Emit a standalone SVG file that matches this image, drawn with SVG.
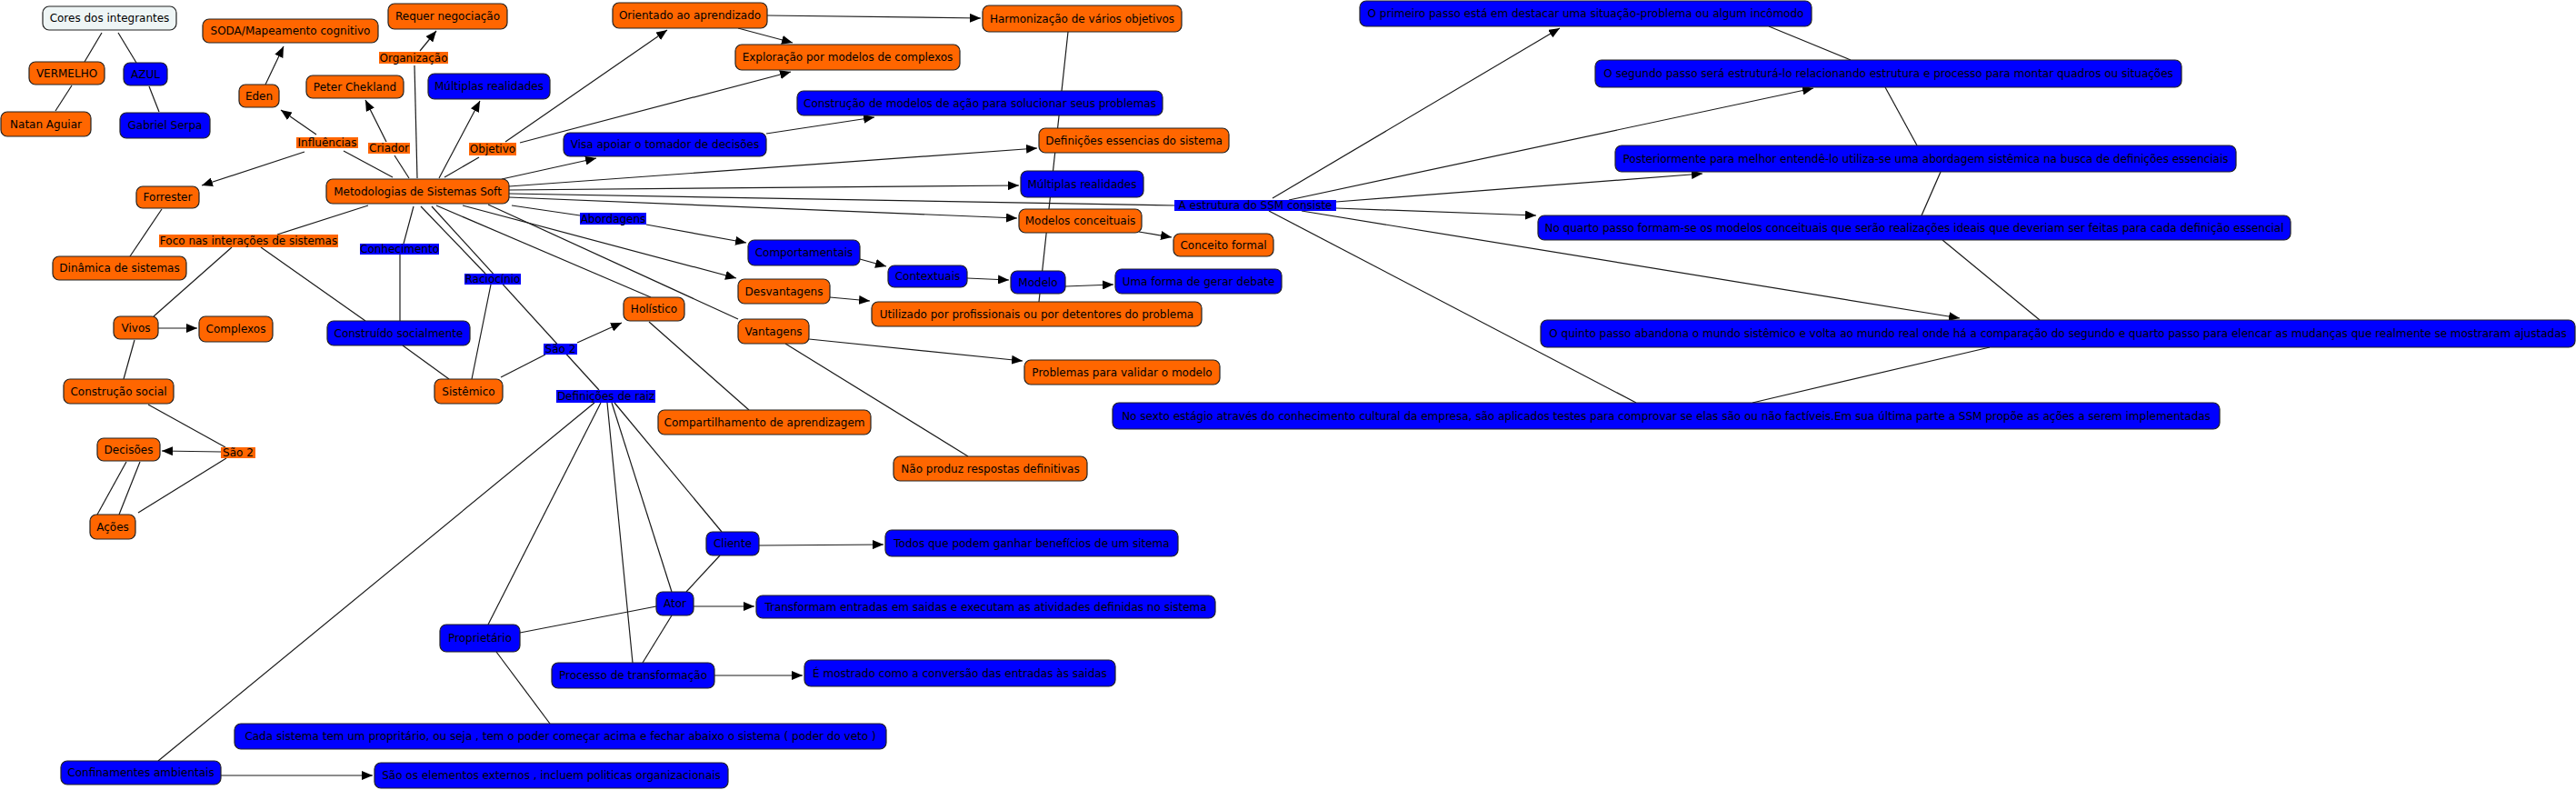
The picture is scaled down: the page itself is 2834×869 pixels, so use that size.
<svg xmlns="http://www.w3.org/2000/svg" width="2834" height="869" viewBox="0 0 2834 869">
<defs>
<marker id="ah" viewBox="0 0 12 10" refX="12" refY="5" markerWidth="12" markerHeight="10" markerUnits="userSpaceOnUse" orient="auto"><path d="M0,0 L12,5 L0,10 z" fill="#000"/></marker>
<style>
.no{fill:#ff6600;stroke:#222;stroke-width:1.2}
.nb{fill:#0000ff;stroke:#222;stroke-width:1.2}
.nw{fill:#eef5f5;stroke:#222;stroke-width:1.2}
.lo{fill:#ff6600}
.lb{fill:#0000ff}
text{font-family:"DejaVu Sans",Verdana,sans-serif;font-size:12px;fill:#000;text-anchor:middle}
#connectors line{stroke:#1a1a1a;stroke-width:1.2}
#connectors .a{marker-end:url(#ah)}
</style>
</defs>
<rect width="2834" height="869" fill="#fff"/>
<g id="connectors">
<line x1="112" y1="36" x2="93" y2="68"/>
<line x1="130" y1="36" x2="150" y2="69"/>
<line x1="79" y1="94" x2="61" y2="122"/>
<line x1="164" y1="95" x2="175" y2="123"/>
<line x1="432" y1="195" x2="378" y2="166"/>
<line class="a" x1="348" y1="148" x2="309" y2="121"/>
<line class="a" x1="335" y1="167" x2="222" y2="204"/>
<line class="a" x1="292" y1="93" x2="312" y2="51"/>
<line x1="450" y1="196" x2="434" y2="171"/>
<line class="a" x1="425" y1="156" x2="402" y2="110"/>
<line x1="459" y1="196" x2="456" y2="72"/>
<line class="a" x1="462" y1="56" x2="480" y2="34"/>
<line class="a" x1="483" y1="196" x2="528" y2="111"/>
<line x1="489" y1="195" x2="527" y2="173"/>
<line class="a" x1="556" y1="156" x2="734" y2="33"/>
<line class="a" x1="572" y1="157" x2="870" y2="79"/>
<line class="a" x1="844" y1="17" x2="1079" y2="20"/>
<line class="a" x1="812" y1="31" x2="872" y2="47"/>
<line class="a" x1="552" y1="197" x2="656" y2="174"/>
<line class="a" x1="843" y1="147" x2="962" y2="129"/>
<line class="a" x1="560" y1="205" x2="1141" y2="163"/>
<line class="a" x1="560" y1="209" x2="1121" y2="204"/>
<line x1="560" y1="213" x2="1292" y2="226"/>
<line class="a" x1="560" y1="217" x2="1119" y2="240"/>
<line class="a" x1="1253" y1="255" x2="1289" y2="261"/>
<line x1="563" y1="226" x2="638" y2="237"/>
<line class="a" x1="711" y1="247" x2="821" y2="267"/>
<line class="a" x1="946" y1="285" x2="975" y2="293"/>
<line class="a" x1="1064" y1="306" x2="1110" y2="308"/>
<line class="a" x1="1172" y1="315" x2="1225" y2="313"/>
<line class="a" x1="913" y1="327" x2="957" y2="331"/>
<line class="a" x1="509" y1="226" x2="810" y2="306"/>
<line x1="537" y1="225" x2="812" y2="351"/>
<line x1="480" y1="226" x2="716" y2="327"/>
<line x1="455" y1="227" x2="444" y2="268"/>
<line x1="440" y1="280" x2="440" y2="353"/>
<line x1="463" y1="227" x2="534" y2="301"/>
<line x1="540" y1="313" x2="519" y2="417"/>
<line x1="475" y1="227" x2="659" y2="429"/>
<line x1="551" y1="415" x2="600" y2="390"/>
<line class="a" x1="635" y1="377" x2="684" y2="355"/>
<line x1="405" y1="226" x2="305" y2="258"/>
<line x1="255" y1="272" x2="169" y2="348"/>
<line x1="287" y1="272" x2="402" y2="353"/>
<line class="a" x1="174" y1="361" x2="217" y2="361"/>
<line x1="148" y1="374" x2="136" y2="417"/>
<line x1="163" y1="445" x2="248" y2="492"/>
<line class="a" x1="243" y1="497" x2="178" y2="496"/>
<line x1="249" y1="504" x2="152" y2="564"/>
<line x1="139" y1="508" x2="107" y2="566"/>
<line x1="154" y1="508" x2="131" y2="566"/>
<line x1="178" y1="230" x2="143" y2="282"/>
<line x1="443" y1="380" x2="494" y2="417"/>
<line x1="714" y1="354" x2="824" y2="451"/>
<line class="a" x1="890" y1="373" x2="1125" y2="397"/>
<line x1="864" y1="378" x2="1065" y2="502"/>
<line x1="1175" y1="35" x2="1143" y2="332"/>
<line x1="654" y1="443" x2="174" y2="837"/>
<line x1="661" y1="443" x2="537" y2="687"/>
<line x1="668" y1="443" x2="696" y2="729"/>
<line x1="673" y1="443" x2="739" y2="651"/>
<line x1="676" y1="443" x2="794" y2="585"/>
<line x1="572" y1="696" x2="722" y2="667"/>
<line x1="546" y1="717" x2="605" y2="796"/>
<line class="a" x1="835" y1="600" x2="972" y2="599"/>
<line x1="792" y1="611" x2="755" y2="651"/>
<line class="a" x1="763" y1="667" x2="830" y2="667"/>
<line x1="739" y1="677" x2="707" y2="729"/>
<line class="a" x1="786" y1="743" x2="883" y2="743"/>
<line class="a" x1="243" y1="853" x2="410" y2="853"/>
<line class="a" x1="1400" y1="218" x2="1716" y2="31"/>
<line class="a" x1="1418" y1="220" x2="1995" y2="97"/>
<line class="a" x1="1470" y1="222" x2="1873" y2="191"/>
<line class="a" x1="1470" y1="229" x2="1690" y2="237"/>
<line class="a" x1="1432" y1="232" x2="2156" y2="350"/>
<line x1="1396" y1="232" x2="1800" y2="443"/>
<line x1="1946" y1="29" x2="2036" y2="66"/>
<line x1="2074" y1="96" x2="2109" y2="160"/>
<line x1="2135" y1="189" x2="2114" y2="237"/>
<line x1="2137" y1="264" x2="2244" y2="352"/>
<line x1="2189" y1="382" x2="1928" y2="443"/>
</g>
<g id="n1"><rect class="nw" x="47" y="7" width="147" height="26" rx="7"/><text x="120.5" y="24">Cores dos integrantes</text></g>
<g id="n2"><rect class="no" x="32" y="68" width="83" height="25" rx="7"/><text x="73.5" y="84.5">VERMELHO</text></g>
<g id="n3"><rect class="nb" x="136" y="69" width="48" height="25" rx="7"/><text x="160" y="85.5">AZUL</text></g>
<g id="n4"><rect class="no" x="1" y="123" width="99" height="27" rx="7"/><text x="50.5" y="140.5">Natan Aguiar</text></g>
<g id="n5"><rect class="nb" x="132" y="124" width="99" height="28" rx="7"/><text x="181.5" y="142">Gabriel Serpa</text></g>
<g id="n6"><rect class="no" x="223" y="21" width="193" height="26" rx="7"/><text x="319.5" y="38">SODA/Mapeamento cognitivo</text></g>
<g id="n7"><rect class="no" x="427" y="4" width="131" height="28" rx="7"/><text x="492.5" y="22">Requer negociação</text></g>
<g id="n8"><rect class="no" x="263" y="93" width="44" height="25" rx="7"/><text x="285" y="109.5">Eden</text></g>
<g id="n9"><rect class="no" x="337" y="83" width="107" height="25" rx="7"/><text x="390.5" y="99.5">Peter Chekland</text></g>
<g id="n10"><rect class="nb" x="471" y="81" width="134" height="28" rx="7"/><text x="538" y="99">Múltiplas realidades</text></g>
<g id="n11"><rect class="no" x="359" y="197" width="201" height="27" rx="7"/><text x="459.5" y="214.5">Metodologias de Sistemas Soft</text></g>
<g id="n12"><rect class="no" x="150" y="205" width="69" height="24" rx="7"/><text x="184.5" y="221">Forrester</text></g>
<g id="n13"><rect class="no" x="58" y="282" width="147" height="26" rx="7"/><text x="131.5" y="299">Dinâmica de sistemas</text></g>
<g id="n14"><rect class="no" x="125" y="348" width="49" height="25" rx="7"/><text x="149.5" y="364.5">Vivos</text></g>
<g id="n15"><rect class="no" x="219" y="348" width="81" height="28" rx="7"/><text x="259.5" y="366">Complexos</text></g>
<g id="n16"><rect class="no" x="70" y="417" width="121" height="27" rx="7"/><text x="130.5" y="434.5">Construção social</text></g>
<g id="n17"><rect class="no" x="107" y="482" width="69" height="25" rx="7"/><text x="141.5" y="498.5">Decisões</text></g>
<g id="n18"><rect class="no" x="99" y="566" width="50" height="27" rx="7"/><text x="124" y="583.5">Ações</text></g>
<g id="n19"><rect class="nb" x="360" y="353" width="157" height="27" rx="7"/><text x="438.5" y="370.5">Construído socialmente</text></g>
<g id="n20"><rect class="no" x="478" y="417" width="75" height="27" rx="7"/><text x="515.5" y="434.5">Sistêmico</text></g>
<g id="n21"><rect class="no" x="686" y="327" width="67" height="26" rx="7"/><text x="719.5" y="344">Holístico</text></g>
<g id="n22"><rect class="no" x="724" y="451" width="234" height="27" rx="7"/><text x="841" y="468.5">Compartilhamento de aprendizagem</text></g>
<g id="n23"><rect class="nb" x="484" y="687" width="88" height="30" rx="7"/><text x="528" y="706">Proprietário</text></g>
<g id="n24"><rect class="nb" x="607" y="729" width="179" height="28" rx="7"/><text x="696.5" y="747">Processo de transformação</text></g>
<g id="n25"><rect class="nb" x="258" y="796" width="717" height="28" rx="7"/><text x="616.5" y="814">Cada sistema tem um propritário, ou seja , tem o poder começar acima e fechar abaixo o sistema ( poder do veto )</text></g>
<g id="n26"><rect class="nb" x="67" y="837" width="176" height="26" rx="7"/><text x="155" y="854">Confinamentes ambientais</text></g>
<g id="n27"><rect class="nb" x="412" y="839" width="389" height="28" rx="7"/><text x="606.5" y="857">São os elementos externos , incluem politicas organizacionais</text></g>
<g id="n28"><rect class="no" x="674" y="3" width="170" height="28" rx="7"/><text x="759" y="21">Orientado ao aprendizado</text></g>
<g id="n29"><rect class="no" x="1081" y="6" width="219" height="29" rx="7"/><text x="1190.5" y="24.5">Harmonização de vários objetivos</text></g>
<g id="n30"><rect class="no" x="809" y="49" width="247" height="28" rx="7"/><text x="932.5" y="67">Exploração por modelos de complexos</text></g>
<g id="n31"><rect class="nb" x="877" y="100" width="402" height="27" rx="7"/><text x="1078" y="117.5">Construção de modelos de ação para solucionar seus problemas</text></g>
<g id="n32"><rect class="nb" x="620" y="146" width="223" height="26" rx="7"/><text x="731.5" y="163">Visa apoiar o tomador de decisões</text></g>
<g id="n33"><rect class="no" x="1143" y="141" width="209" height="27" rx="7"/><text x="1247.5" y="158.5">Definições essencias do sistema</text></g>
<g id="n34"><rect class="nb" x="1123" y="188" width="135" height="29" rx="7"/><text x="1190.5" y="206.5">Múltiplas realidades</text></g>
<g id="n35"><rect class="no" x="1121" y="230" width="135" height="26" rx="7"/><text x="1188.5" y="247">Modelos conceituais</text></g>
<g id="n36"><rect class="no" x="1291" y="257" width="110" height="25" rx="7"/><text x="1346" y="273.5">Conceito formal</text></g>
<g id="n37"><rect class="nb" x="823" y="264" width="123" height="28" rx="7"/><text x="884.5" y="282">Comportamentais</text></g>
<g id="n38"><rect class="nb" x="977" y="292" width="87" height="24" rx="7"/><text x="1020.5" y="308">Contextuais</text></g>
<g id="n39"><rect class="nb" x="1112" y="298" width="60" height="25" rx="7"/><text x="1142" y="314.5">Modelo</text></g>
<g id="n40"><rect class="nb" x="1227" y="296" width="183" height="27" rx="7"/><text x="1318.5" y="313.5">Uma forma de gerar debate</text></g>
<g id="n41"><rect class="no" x="812" y="307" width="101" height="27" rx="7"/><text x="862.5" y="324.5">Desvantagens</text></g>
<g id="n42"><rect class="no" x="959" y="332" width="363" height="27" rx="7"/><text x="1140.5" y="349.5">Utilizado por profissionais ou por detentores do problema</text></g>
<g id="n43"><rect class="no" x="812" y="351" width="78" height="27" rx="7"/><text x="851" y="368.5">Vantagens</text></g>
<g id="n44"><rect class="no" x="1127" y="396" width="215" height="27" rx="7"/><text x="1234.5" y="413.5">Problemas para validar o modelo</text></g>
<g id="n45"><rect class="no" x="983" y="502" width="213" height="27" rx="7"/><text x="1089.5" y="519.5">Não produz respostas definitivas</text></g>
<g id="n46"><rect class="nb" x="1224" y="443" width="1218" height="29" rx="7"/><text x="1833" y="461.5">No sexto estágio através do conhecimento cultural da empresa, são aplicados testes para comprovar se elas são ou não factíveis.Em sua última parte a SSM propõe as ações a serem implementadas</text></g>
<g id="n47"><rect class="nb" x="777" y="585" width="58" height="26" rx="7"/><text x="806" y="602">Cliente</text></g>
<g id="n48"><rect class="nb" x="974" y="583" width="322" height="29" rx="7"/><text x="1135" y="601.5">Todos que podem ganhar benefícios de um sitema</text></g>
<g id="n49"><rect class="nb" x="722" y="651" width="41" height="26" rx="7"/><text x="742.5" y="668">Ator</text></g>
<g id="n50"><rect class="nb" x="832" y="655" width="505" height="25" rx="7"/><text x="1084.5" y="671.5">Transformam entradas em saidas e executam as atividades definidas no sistema</text></g>
<g id="n51"><rect class="nb" x="885" y="726" width="342" height="29" rx="7"/><text x="1056" y="744.5">É mostrado como a conversão das entradas às saidas</text></g>
<g id="n52"><rect class="nb" x="1496" y="1" width="497" height="28" rx="7"/><text x="1744.5" y="19">O primeiro passo está em destacar uma situação-problema ou algum incômodo</text></g>
<g id="n53"><rect class="nb" x="1755" y="66" width="645" height="30" rx="7"/><text x="2077.5" y="85">O segundo passo será estruturá-lo relacionando estrutura e processo para montar quadros ou situações</text></g>
<g id="n54"><rect class="nb" x="1777" y="160" width="683" height="29" rx="7"/><text x="2118.5" y="178.5">Posteriormente para melhor entendê-lo utiliza-se uma abordagem sistêmica na busca de definições essenciais</text></g>
<g id="n55"><rect class="nb" x="1692" y="237" width="828" height="27" rx="7"/><text x="2106" y="254.5">No quarto passo formam-se os modelos conceituais que serão realizações ideais que deveriam ser feitas para cada definição essencial</text></g>
<g id="n56"><rect class="nb" x="1695" y="352" width="1138" height="30" rx="7"/><text x="2264" y="371">O quinto passo abandona o mundo sistêmico e volta ao mundo real onde há a comparação do segundo e quarto passo para elencar as mudanças que realmente se mostraram ajustadas</text></g>
<g id="l1"><rect class="lo" x="417" y="57" width="76" height="13"/><text x="455" y="67.5">Organização</text></g>
<g id="l2"><rect class="lo" x="326" y="151" width="68" height="12"/><text x="360" y="161">Influências</text></g>
<g id="l3"><rect class="lo" x="405" y="157" width="46" height="12"/><text x="428" y="167">Criador</text></g>
<g id="l4"><rect class="lo" x="516" y="157" width="52" height="14"/><text x="542" y="168">Objetivo</text></g>
<g id="l5"><rect class="lo" x="175" y="258" width="197" height="14"/><text x="273.5" y="269">Foco nas interações de sistemas</text></g>
<g id="l6"><rect class="lb" x="396" y="268" width="87" height="12"/><text x="439.5" y="278">Conhecimento</text></g>
<g id="l7"><rect class="lb" x="638" y="234" width="73" height="13"/><text x="674.5" y="244.5">Abordagens</text></g>
<g id="l8"><rect class="lb" x="511" y="301" width="62" height="12"/><text x="542" y="311">Raciocínio</text></g>
<g id="l9"><rect class="lb" x="598" y="378" width="37" height="12"/><text x="616.5" y="388">São 2</text></g>
<g id="l10"><rect class="lb" x="612" y="429" width="109" height="14"/><text x="666.5" y="440">Definições de raiz</text></g>
<g id="l11"><rect class="lo" x="243" y="492" width="38" height="12"/><text x="262" y="502">São 2</text></g>
<g id="l12"><rect class="lb" x="1292" y="220" width="178" height="12"/><text x="1381" y="230">A estrutura do SSM consiste</text></g>
</svg>
